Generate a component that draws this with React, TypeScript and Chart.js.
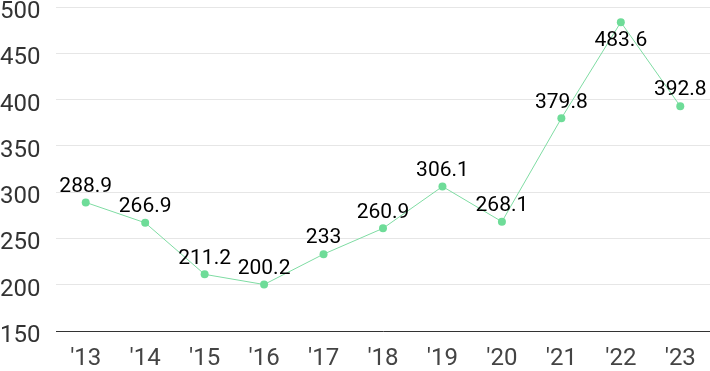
import React, { useEffect, useRef } from "react";
import { Chart, registerables } from "chart.js";

Chart.register(...registerables);

const categories = ["'13", "'14", "'15", "'16", "'17", "'18", "'19", "'20", "'21", "'22", "'23"];
const values = [288.9, 266.9, 211.2, 200.2, 233, 260.9, 306.1, 268.1, 379.8, 483.6, 392.8];
const valueLabels = ["288.9", "266.9", "211.2", "200.2", "233", "260.9", "306.1", "268.1", "379.8", "483.6", "392.8"];
const yTicks = [150, 200, 250, 300, 350, 400, 450, 500];

const GREEN = "#6edc98";

const labelPlugin = {
  id: "valueLabels",
  afterDatasetsDraw(chart: any) {
    const ctx = chart.ctx;
    const meta = chart.getDatasetMeta(0);
    const area = chart.chartArea;
    ctx.save();
    ctx.font = "21px Roboto";
    ctx.fillStyle = "#000";
    ctx.textAlign = "center";
    ctx.textBaseline = "middle";
    meta.data.forEach((pt: any, i: number) => {
      let y = pt.y - 16;
      if (y - 10 < area.top) y = pt.y + 19;
      ctx.fillText(valueLabels[i], pt.x, y);
    });
    ctx.restore();
  },
};

export default function App() {
  const ref = useRef<HTMLCanvasElement>(null);
  useEffect(() => {
    if (!ref.current) return;
    const chart = new Chart(ref.current, {
      type: "line",
      data: {
        labels: categories,
        datasets: [
          {
            data: values,
            borderColor: "#7fdca3",
            borderWidth: 1,
            pointRadius: 4,
            pointBackgroundColor: GREEN,
            pointBorderColor: GREEN,
            pointBorderWidth: 0,
            tension: 0,
          },
        ],
      },
      options: {
        animation: false,
        responsive: true,
        maintainAspectRatio: false,
        layout: { autoPadding: false, padding: { top: 7, right: 0, left: 0, bottom: 0 } },
        plugins: { legend: { display: false }, tooltip: { enabled: false } },
        scales: {
          x: {
            offset: true,
            grid: { display: false, drawTicks: false },
            border: { display: true, color: "#333", width: 1 },
            ticks: {
              color: "#444",
              font: { family: "Roboto", size: 24 },
              padding: 14,
              maxRotation: 0,
            },
            afterFit: (s: any) => {
              s.height = 40;
              s.paddingLeft = 0;
              s.paddingRight = 0;
            },
          },
          y: {
            min: 150,
            max: 500,
            afterBuildTicks: (s: any) => {
              s.ticks = yTicks.map((v) => ({ value: v }));
            },
            grid: { color: "#e6e6e6", drawTicks: false, lineWidth: 1 },
            border: { display: false },
            ticks: {
              color: "#333",
              font: { family: "Roboto", size: 24, lineHeight: 0.5 },
              crossAlign: "far",
              padding: 14,
              labelOffset: 5,
            },
            afterFit: (s: any) => {
              s.width = 56;
              s.paddingTop = 0;
              s.paddingBottom = 0;
            },
          },
        },
      },
      plugins: [labelPlugin],
    });
    return () => chart.destroy();
  }, []);
  return (
    <div style={{ position: "fixed", left: 0, top: 0, width: 710, height: 371 }}>
      <canvas ref={ref} />
    </div>
  );
}
